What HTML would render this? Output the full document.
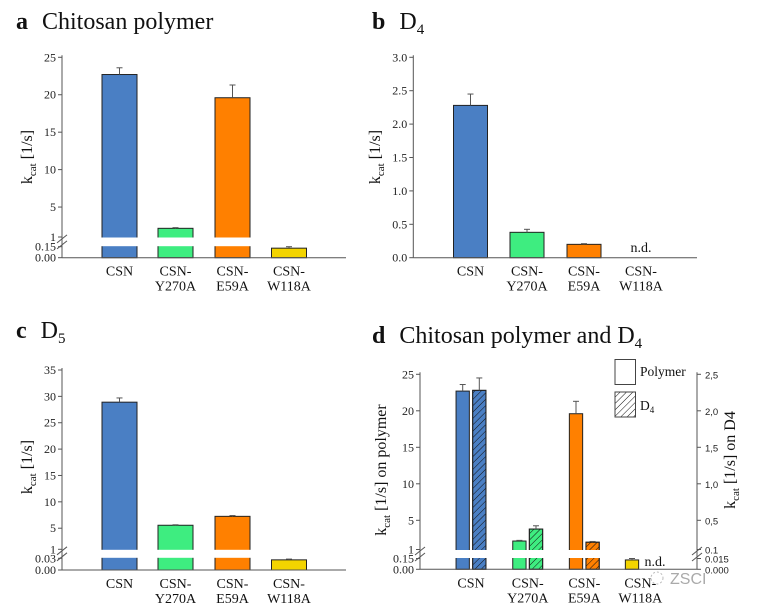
<!DOCTYPE html>
<html><head><meta charset="utf-8">
<style>
html,body{margin:0;padding:0;background:#fff;}
svg{display:block;font-family:"Liberation Serif",serif;}
</style></head>
<body>
<svg id="fig" width="757" height="616" viewBox="0 0 757 616" xmlns="http://www.w3.org/2000/svg">
<defs>
<pattern id="hatch" patternUnits="userSpaceOnUse" width="4.5" height="4.5" patternTransform="rotate(45)">
<line x1="0" y1="0" x2="0" y2="4.5" stroke="#111" stroke-width="1"/>
</pattern>
</defs>
<rect width="757" height="616" fill="#fff"/>
<g id="root"></g>
</svg>
<script>
// ---- data ----
const categories = ["CSN", "CSN-|Y270A", "CSN-|E59A", "CSN-|W118A"];
const colors = ["#4a7fc4", "#3eed80", "#ff8000", "#f3d400"];
const polyValues = [22.7, 2.16, 19.6, 0.13];
const polyErrors = [23.6, 2.25, 21.3, 0.15];
const d4Values = [2.28, 0.38, 0.20, null];
const d4Errors = [2.45, 0.425, 0.21, null];
const d5Values = [28.9, 5.56, 7.25, 0.026];
const d5Errors = [29.7, 5.65, 7.4, 0.028];
const ticksA = [0, 0.15, 1, 5, 10, 15, 20, 25];
const tickLabelsA = ["0.00", "0.15", "1", "5", "10", "15", "20", "25"];
const ticksB = [0, 0.5, 1.0, 1.5, 2.0, 2.5, 3.0];
const tickLabelsB = ["0.0", "0.5", "1.0", "1.5", "2.0", "2.5", "3.0"];
const ticksC = [0, 0.03, 1, 5, 10, 15, 20, 25, 30, 35];
const tickLabelsC = ["0.00", "0.03", "1", "5", "10", "15", "20", "25", "30", "35"];
const ticksDL = [0, 0.15, 1, 5, 10, 15, 20, 25];
const tickLabelsDL = ["0.00", "0.15", "1", "5", "10", "15", "20", "25"];
const ticksDR = [0, 0.015, 0.1, 0.5, 1.0, 1.5, 2.0, 2.5];
const tickLabelsDR = ["0.000", "0.015", "0.1", "0,5", "1,0", "1,5", "2,0", "2,5"];

const NS = "http://www.w3.org/2000/svg";
const root = document.getElementById("root");
function mk(tag, attrs, parent, name, inter) {
  const e = document.createElementNS(NS, tag);
  for (const k in attrs) e.setAttribute(k, attrs[k]);
  
  
  (parent || root).appendChild(e);
  return e;
}
function makeScale(ax) {
  return function (v) {
    if (ax.lowMax === undefined) return ax.y0 - (v / ax.max) * (ax.y0 - ax.yTop);
    if (v <= ax.lowMax) return ax.y0 - (v / ax.lowMax) * (ax.y0 - ax.yLow);
    if (v < ax.hiMin) return ax.yLow;
    return ax.yHi - (v - ax.hiMin) / (ax.max - ax.hiMin) * (ax.yHi - ax.yTop);
  };
}
function title(x, y, letter, text, sub, name) {
  const t = mk("text", {x: x, y: y, "font-size": 24, fill: "#111"}, root, name, false);
  const l = document.createElementNS(NS, "tspan");
  l.setAttribute("font-weight", "bold"); l.textContent = letter; t.appendChild(l);
  const m = document.createElementNS(NS, "tspan");
  m.setAttribute("dx", "14"); m.textContent = text; t.appendChild(m);
  if (sub) { const s = document.createElementNS(NS, "tspan"); s.setAttribute("font-size", "15"); s.setAttribute("dy", "5"); s.textContent = sub; t.appendChild(s); }
}
function yLabel(x, y, extra, name) {
  const t = mk("text", {x: x, y: y, "font-size": 16, fill: "#111", "text-anchor": "middle", transform: "rotate(-90 " + x + " " + y + ")"}, root, name, false);
  const a = document.createElementNS(NS, "tspan"); a.textContent = "k"; t.appendChild(a);
  const b = document.createElementNS(NS, "tspan"); b.setAttribute("font-size", "11"); b.setAttribute("dy", "4"); b.textContent = "cat"; t.appendChild(b);
  const c = document.createElementNS(NS, "tspan"); c.setAttribute("dy", "-4"); c.textContent = " [1/s]" + extra; t.appendChild(c);
}
function axisLeft(ax, sc, ticks, labels, name, right) {
  const g = mk("g", {}, root, name, false);
  const x = ax.x;
  mk("line", {x1: x, y1: ax.y0, x2: x, y2: ax.yTop - 2, stroke: "#555", "stroke-width": 1}, g, name + "-line", false);
  ticks.forEach((v, i) => {
    const y = sc(v);
    mk("line", {x1: x, y1: y, x2: right ? x + 4 : x - 4, y2: y, stroke: "#555"}, g, "y-tick", false);
    const t = mk("text", {x: right ? x + 8 : x - 6, y: y + 4, "font-size": right ? 9.5 : 12, "text-anchor": right ? "start" : "end", fill: "#222", "font-family": right ? "Liberation Sans, sans-serif" : "Liberation Serif, serif"}, g, "y-tick-label", false);
    t.textContent = labels[i];
  });
  if (ax.lowMax !== undefined) {
    const yb = (ax.yLow + ax.yHi) / 2;
    [-3, 3].forEach(d => mk("line", {x1: x - 5, y1: yb + d + 4, x2: x + 5, y2: yb + d - 4, stroke: "#555"}, g, "axis-break-mark", false));
  }
}
function xAxis(ax, x2, centers, name) {
  mk("line", {x1: ax.x, y1: ax.y0, x2: x2, y2: ax.y0, stroke: "#555"}, root, name, false);
  categories.forEach((c, i) => {
    const parts = c.split("|");
    parts.forEach((p, j) => {
      const t = mk("text", {x: centers[i], y: ax.y0 + 18 + j * 15, "font-size": 14, "text-anchor": "middle", fill: "#111"}, root, "x-label-" + i, false);
      t.textContent = p;
    });
  });
}
function bar(cx, w, v, err, sc, ax, color, name, hatched) {
  if (v === null) return;
  const top = sc(v);
  mk("rect", {x: cx - w / 2, y: top, width: w, height: ax.y0 - top, fill: color, stroke: "#222", "stroke-width": 1}, root, name, true);
  if (hatched) mk("rect", {x: cx - w / 2, y: top, width: w, height: ax.y0 - top, fill: "url(#hatch)", stroke: "#222"}, root, name + "-hatch", false);
  if (ax.lowMax !== undefined && v > ax.hiMin)
    mk("rect", {x: cx - w / 2 - 1, y: ax.yHi + 0.5, width: w + 2, height: ax.yLow - ax.yHi - 1, fill: "#fff"}, root, "break-gap", false);
  if (err !== null && err > v) {
    const ye = sc(err);
    mk("line", {x1: cx, y1: top, x2: cx, y2: ye, stroke: "#555"}, root, "error-bar", false);
    mk("line", {x1: cx - 3, y1: ye, x2: cx + 3, y2: ye, stroke: "#555"}, root, "error-cap", false);
  }
}

// ---- Panel a ----
const axA = {x: 62, y0: 257.7, yLow: 246.7, lowMax: 0.15, yHi: 237, hiMin: 1, max: 25, yTop: 57.3};
const scA = makeScale(axA);
const cA = [119.5, 175.5, 232.5, 289];
title(16, 29, "a", "Chitosan polymer", null, "panel-a-title");
categories.forEach((c, i) => bar(cA[i], 35, polyValues[i], polyErrors[i], scA, axA, colors[i], "bar-a-" + i));
axisLeft(axA, scA, ticksA, tickLabelsA, "panel-a-y-axis");
xAxis(axA, 346, cA, "panel-a-x-axis");
yLabel(32, 157, "", "panel-a-y-title");

// ---- Panel b ----
const axB = {x: 413.3, y0: 257.7, max: 3.0, yTop: 57.3};
const scB = makeScale(axB);
const cB = [470.5, 527, 584, 641];
title(372, 29, "b", "D", "4", "panel-b-title");
categories.forEach((c, i) => bar(cB[i], 34, d4Values[i], d4Errors[i], scB, axB, colors[i], "bar-b-" + i));
axisLeft(axB, scB, ticksB, tickLabelsB, "panel-b-y-axis");
xAxis(axB, 697, cB, "panel-b-x-axis");
yLabel(380, 157, "", "panel-b-y-title");
mk("text", {x: 641, y: 252, "font-size": 14, "text-anchor": "middle", fill: "#111"}, root, "panel-b-nd", false).textContent = "n.d.";

// ---- Panel c ----
const axC = {x: 62, y0: 570, yLow: 558.3, lowMax: 0.03, yHi: 549.3, hiMin: 1, max: 35, yTop: 370};
const scC = makeScale(axC);
title(16, 338, "c", "D", "5", "panel-c-title");
categories.forEach((c, i) => bar(cA[i], 35, d5Values[i], d5Errors[i], scC, axC, colors[i], "bar-c-" + i));
axisLeft(axC, scC, ticksC, tickLabelsC, "panel-c-y-axis");
xAxis(axC, 346, cA, "panel-c-x-axis");
yLabel(32, 467, "", "panel-c-y-title");

// ---- Panel d ----
const axD = {x: 420, y0: 569.3, yLow: 558.5, lowMax: 0.15, yHi: 549.5, hiMin: 1, max: 25, yTop: 374.3};
const scD = makeScale(axD);
const axDR = {x: 697, y0: 569.3, yLow: 558.5, lowMax: 0.015, yHi: 549.5, hiMin: 0.1, max: 2.5, yTop: 374.3};
const scDR = makeScale(axDR);
const cD = [471, 527.7, 584.3, 640.3];
title(372, 343, "d", "Chitosan polymer and D", "4", "panel-d-title");
categories.forEach((c, i) => {
  bar(cD[i] - 8.3, 13.3, polyValues[i], polyErrors[i], scD, axD, colors[i], "bar-d-polymer-" + i);
  bar(cD[i] + 8.3, 13.3, d4Values[i], d4Errors[i], scDR, axDR, colors[i], "bar-d-d4-" + i, true);
});
axisLeft(axD, scD, ticksDL, tickLabelsDL, "panel-d-left-axis");
axisLeft(axDR, scDR, ticksDR, tickLabelsDR, "panel-d-right-axis", true);
xAxis(axD, 697, cD, "panel-d-x-axis");
yLabel(386, 470, " on polymer", "panel-d-left-title");
yLabel(735, 460, " on D4", "panel-d-right-title");
mk("text", {x: 655, y: 566, "font-size": 14, "text-anchor": "middle", fill: "#111"}, root, "panel-d-nd", false).textContent = "n.d.";
// legend
mk("rect", {x: 615, y: 359.5, width: 20.5, height: 25, fill: "#fff", stroke: "#444"}, root, "legend-polymer-swatch", false);
mk("text", {x: 640, y: 376, "font-size": 13.5, fill: "#111"}, root, "legend-polymer-label", false).textContent = "Polymer";
mk("rect", {x: 615, y: 392, width: 20.5, height: 25, fill: "url(#hatch)", stroke: "#444"}, root, "legend-d4-swatch", false);
const ld = mk("text", {x: 640, y: 410, "font-size": 13.5, fill: "#111"}, root, "legend-d4-label", false);
ld.innerHTML = 'D<tspan font-size="9" dy="3">4</tspan>';
// watermark
mk("text", {x: 670, y: 584, "font-size": 16, fill: "#aaa", "font-family": "Liberation Sans, sans-serif"}, root, "watermark", false).textContent = "ZSCI";
mk("circle", {cx: 657, cy: 578, r: 6, fill: "none", stroke: "#bbb", "stroke-dasharray": "2 2"}, root, "watermark-icon", false);
</script>
</body></html>
